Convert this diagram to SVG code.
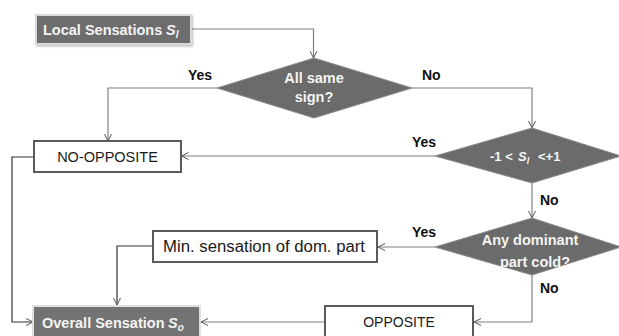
<svg xmlns="http://www.w3.org/2000/svg" width="619" height="336" viewBox="0 0 619 336">
<defs>
<marker id="arr" viewBox="0 0 8 8" refX="7.5" refY="4" markerWidth="8" markerHeight="8" markerUnits="userSpaceOnUse" orient="auto">
<path d="M0.5,0.5 L7.5,4 L0.5,7.5" fill="none" stroke="#555" stroke-width="1"/>
</marker>
<filter id="sh" x="-10%" y="-20%" width="120%" height="150%">
<feDropShadow dx="1" dy="1.5" stdDeviation="1" flood-color="#000" flood-opacity="0.25"/>
</filter>
</defs>
<style>
.dark{fill:#6d6d6d;stroke:#d9d9d9;stroke-width:2}
.dia{fill:#6b6b6b;stroke:#8a8a8a;stroke-width:1}
.box{fill:#fff;stroke:#5a5a5a;stroke-width:2}
.wt{font-family:"Liberation Sans",Arial,sans-serif;font-weight:bold;fill:#f4f4f4;font-size:14.5px}
.bt{font-family:"Liberation Sans",Arial,sans-serif;fill:#1a1a1a;font-size:14.5px}
.lb{font-family:"Liberation Sans",Arial,sans-serif;font-weight:bold;fill:#111;font-size:14px}
.c{fill:none;stroke:#808080;stroke-width:1.2;marker-end:url(#arr)}
.cd{fill:none;stroke:#333;stroke-width:1.2;marker-end:url(#arr)}
</style>
<rect width="619" height="336" fill="#fff"/>
<g id="connectors">
<path class="c" d="M191,29 H313.5 V58"/>
<path class="c" d="M217,88 H108 V141"/>
<path class="c" d="M412,88 H532 V128"/>
<path class="c" d="M435,156 H181.5"/>
<path class="cd" d="M34,157 H12 V322 H33"/>
<path class="c" d="M532,183 V218"/>
<path class="c" d="M435,247 H378"/>
<path class="cd" d="M153,246 H117 V305"/>
<path class="c" d="M532,275 V322 H474"/>
<path class="c" d="M325,322 H201"/>
</g>
<g id="labels">
<text class="lb" x="188" y="80">Yes</text>
<text class="lb" x="422" y="80">No</text>
<text class="lb" x="412" y="147">Yes</text>
<text class="lb" x="540" y="205">No</text>
<text class="lb" x="412" y="237">Yes</text>
<text class="lb" x="540" y="293">No</text>
</g>
<g id="local">
<rect class="dark" x="36" y="15" width="155" height="29" filter="url(#sh)"/>
<text class="wt" x="43" y="35">Local Sensations</text>
<text class="wt" x="166" y="35" font-style="italic">S<tspan font-size="10" dy="3">l</tspan></text>
</g>
<g id="allsame">
<polygon class="dia" points="314,58 412,88 314,118 217,88"/>
<text class="wt" x="314" y="83" text-anchor="middle">All same</text>
<text class="wt" x="314" y="102" text-anchor="middle">sign?</text>
</g>
<g id="nooppo">
<rect class="box" x="34" y="141" width="147" height="31"/>
<text class="bt" x="107.5" y="162" text-anchor="middle">NO-OPPOSITE</text>
</g>
<g id="range">
<polygon class="dia" points="532,128 621,156 532,183 435,156"/>
<text class="wt" style="font-size:13px" x="490" y="161">-1 &lt;</text>
<text class="wt" style="font-size:13px" x="518" y="161" font-style="italic">S<tspan style="font-size:9px" dy="3">l</tspan></text>
<text class="wt" style="font-size:13px" x="538" y="161">&lt;+1</text>
</g>
<g id="dominant">
<polygon class="dia" points="532,218 621,247 532,275 435,247"/>
<text class="wt" x="530" y="245" text-anchor="middle">Any dominant</text>
<text class="wt" x="535" y="267" text-anchor="middle">part cold?</text>
</g>
<g id="minsens">
<rect class="box" x="153" y="231" width="224" height="31"/>
<text class="bt" x="264" y="252" text-anchor="middle" style="font-size:16px" textLength="202" lengthAdjust="spacingAndGlyphs">Min. sensation of dom. part</text>
</g>
<g id="opposite">
<rect class="box" x="325" y="306" width="148" height="32"/>
<text class="bt" x="399" y="327" text-anchor="middle" style="font-size:14px">OPPOSITE</text>
</g>
<g id="overall">
<rect class="dark" x="33" y="306" width="167" height="31" style="fill:#737373;stroke:#e0e0e0"/>
<text class="wt" x="42" y="328">Overall Sensation</text>
<text class="wt" x="168" y="328" font-style="italic">S<tspan style="font-size:10px" dy="3">o</tspan></text>
</g>
</svg>
